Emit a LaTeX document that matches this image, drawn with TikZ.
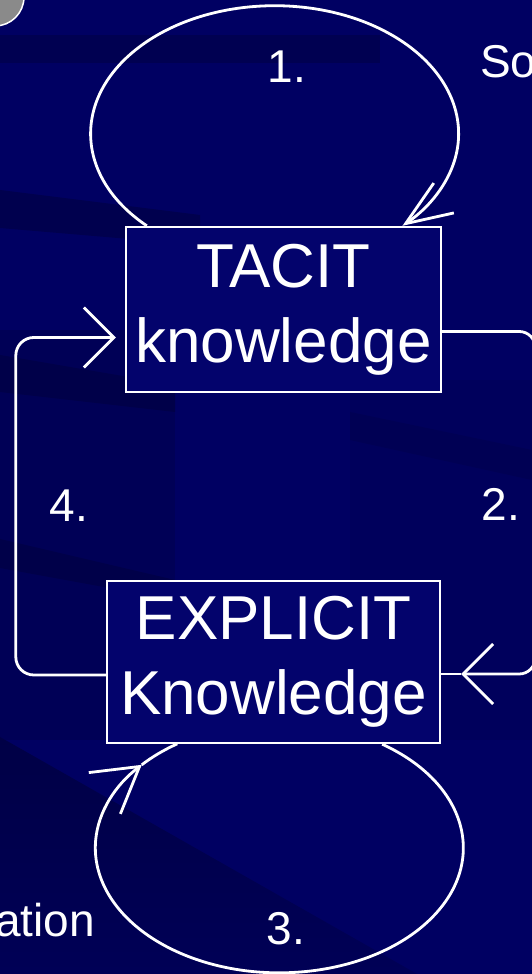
\documentclass[tikz,border=0pt]{standalone}
\usepackage{fontspec}
\setmainfont{Liberation Sans}
\usepackage{tikz}
\usetikzlibrary{arrows.meta, calc}
\definecolor{slidebg}{RGB}{0, 0, 98}
\definecolor{slidedark}{RGB}{0, 0, 86}
\definecolor{streak}{RGB}{0, 0, 70}
\definecolor{boxfill}{RGB}{3, 3, 108}
\definecolor{knobgrey}{RGB}{138, 138, 138}
\tikzset{
  conceptbox/.style={draw=white, line width=2.4pt, fill=boxfill, text=white, align=center,
    inner sep=0pt, font=\fontsize{62}{75}\selectfont},
  link/.style={draw=white, line width=2.8pt},
  numlabel/.style={text=white, inner sep=0pt, font=\fontsize{46}{50}\selectfont},
  >={Straight Barb[length=30pt, width=60pt, quick]},
  looptip/.style={-{Straight Barb[length=#1, quick]}}
}
\begin{document}
\begin{tikzpicture}[x=1pt, y=1pt]
  \useasboundingbox (0,0) rectangle (532,974);
  \clip (0,0) rectangle (532,974);
  % Slide background
  \fill[slidebg] (0,0) rectangle (532,974);
  \fill[slidedark] (0,234) rectangle (175,644);
  \fill[slidedark!50!slidebg] (350,234) rectangle (532,594);
  \fill[streak!60!slidebg] (0,911) rectangle (380,939);
  \fill[streak!70!slidebg] (0,784) -- (200,759) -- (200,729) -- (0,746) -- cycle;
  \fill[streak!80!slidedark] (0,619) -- (175,589) -- (175,562) -- (0,582) -- cycle;
  \fill[streak!80!slidedark] (0,435) -- (175,394) -- (175,374) -- (0,406) -- cycle;
  \fill[streak!50!slidebg] (350,562) -- (532,524) -- (532,494) -- (350,534) -- cycle;
  \shade[top color=streak, bottom color=slidedark] (0,237) -- (417,0) -- (0,0) -- cycle;
  \filldraw[fill=knobgrey, draw=white, line width=1.5pt] (-5,977) circle[radius=29pt];

  % Knowledge boxes
  \node[conceptbox, minimum width=315pt, minimum height=165pt] (tacit) at (283.5,664.5) {TACIT\\knowledge};
  \node[conceptbox, minimum width=333pt, minimum height=162pt] (explicit) at (273.5,312) {EXPLICIT\\Knowledge};

  % 1. tacit to tacit
  \draw[link, looptip={46pt, width=36pt}] ([xshift=22pt]tacit.north west) arc[start angle=226, end angle=-46, x radius=184pt, y radius=128pt];
  % 2. tacit to explicit
  \coordinate (rtip) at ([xshift=20pt, yshift=-12pt]explicit.east);
  \draw[link, rounded corners=16pt, ->] ([yshift=-22pt]tacit.east) -- ++(93,0) |- (rtip);
  \draw[link] (rtip) -- ([yshift=-12pt]explicit.east);
  % 3. explicit to explicit
  \draw[link, looptip={44pt, width=52pt}] ([xshift=-59pt]explicit.south east) arc[start angle=56, end angle=-221.6, x radius=184pt, y radius=125pt] coordinate (btip);
  \draw[link] (btip) arc[start angle=138.4, end angle=123.7, x radius=184pt, y radius=125pt];
  % 4. explicit to tacit
  \draw[link, rounded corners=18pt, ->, shorten >=9pt] ([yshift=-13pt]explicit.west) -- ++(-90,0) |- ([yshift=-28pt]tacit.west);

  % Labels
  \node[numlabel] (n1) at (287,907) {1.};
  \node[numlabel] (n2) at (501,470) {2.};
  \node[numlabel] (n3) at (286,45) {3.};
  \node[numlabel] (n4) at (69,468) {4.};
  \node[numlabel, anchor=base west] (so) at (480,896) {So};
  \node[numlabel, anchor=base east] (ation) at (95,37) {ation};
\end{tikzpicture}
\end{document}
